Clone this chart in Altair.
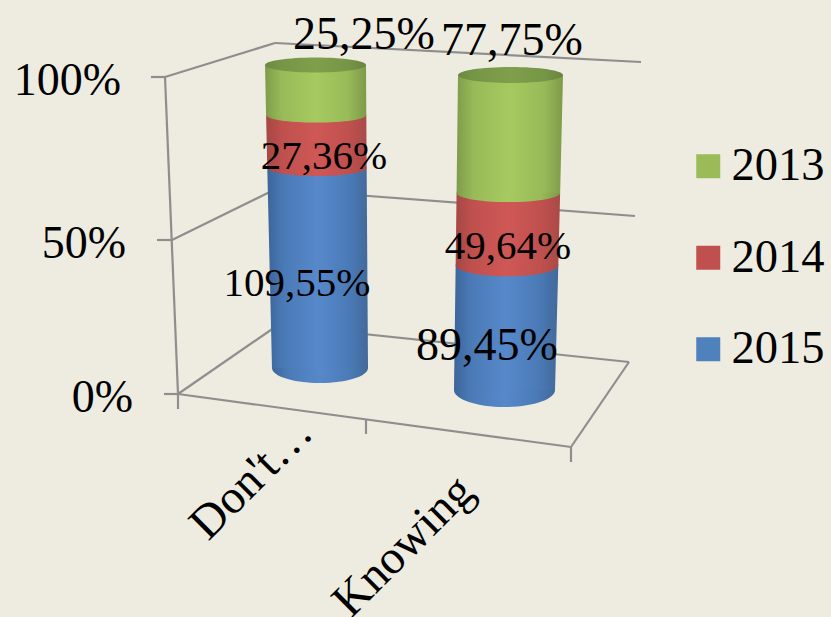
import altair as alt
import pandas as pd

# Values printed on the columns, per category
categories = ["Don't…", "Knowing"]
years = ["2015", "2014", "2013"]
values_2015 = [109.55, 89.45]
values_2014 = [27.36, 49.64]
values_2013 = [25.25, 77.75]
percent_ticks = [0, 50, 100]
SERIES = dict(zip(years, [values_2015, values_2014, values_2013]))

BACKGROUND = "#EEECE1"
GRID = "#8E8E8E"
FONT = "Liberation Serif"
LEGEND_COLORS = {"2013": "#9BBB59", "2014": "#C0504D", "2015": "#4F81BD"}
SHADES = {
    "2015": ("#3C659A", "#4A7AB6", "#5788CA", "#42699A"),
    "2014": ("#A54744", "#BF504E", "#CF5856", "#A94A47"),
    "2013": ("#7F9C4A", "#98BA58", "#A6CA60", "#7E9A4A"),
    "top": ("#6B8A42", "#769647", "#7F9F4C", "#688540"),
}

# Projected outline of each cylinder on the 831x617 canvas
CYLINDERS = {
    "Don't…": dict(y0=368, y1=65, l0=272, l1=265, r0=368, r1=366, h0=15, h1=7.5),
    "Knowing": dict(y0=390, y1=75, l0=454, l1=458, r0=555, r1=563, h0=17, h1=8),
}
PERSPECTIVE = 1.07

# Projected frame of the chart box
FLOOR_FRONT_L = (178, 394)
FLOOR_FRONT_R = (571, 447)
FLOOR_BACK_L = (278, 325)
FLOOR_BACK_R = (629, 362)
WALL_LINES = [
    (165, 77, 275, 43), (275, 43, 641, 62),
    (172, 240, 276, 189), (276, 189, 635, 216),
    (165, 77, 178, 394),
    FLOOR_FRONT_L + FLOOR_BACK_L, FLOOR_BACK_L + FLOOR_BACK_R,
    FLOOR_BACK_R + FLOOR_FRONT_R, FLOOR_FRONT_R + FLOOR_FRONT_L,
    (151, 77, 165, 77), (157, 240, 172, 240), (164, 394, 178, 394),
    (178, 394, 178, 409), (366, 420, 366, 434), (571, 447, 571, 462),
]

# Anchors and sizes for the texts
TICK_ANCHORS = {0: (133, 412, 46), 50: (126, 258, 46), 100: (121, 95, 46)}
CATEGORY_ANCHORS = {"Don't…": (315, 435), "Knowing": (476, 494)}
VALUE_ANCHORS = {
    ("Don't…", "2015"): (297, 296, 41),
    ("Don't…", "2014"): (324, 169, 41),
    ("Don't…", "2013"): (364, 49, 46),
    ("Knowing", "2015"): (487, 360, 46),
    ("Knowing", "2014"): (508, 259, 41),
    ("Knowing", "2013"): (512, 55, 46),
}


def project(category, share):
    """Screen geometry of a cylinder's cross-section at a cumulative share."""
    c = CYLINDERS[category]
    depth = share / (PERSPECTIVE - (PERSPECTIVE - 1) * share)
    return dict(
        y=c["y0"] + (c["y1"] - c["y0"]) * depth,
        left=c["l0"] + (c["l1"] - c["l0"]) * share,
        right=c["r0"] + (c["r1"] - c["r0"]) * share,
        half=c["h1"] + (c["h0"] - c["h1"]) * (1 - share) ** 2,
    )


def ellipse_row(category, share):
    s = project(category, share)
    width = s["right"] - s["left"]
    r = 2 * s["half"] / width
    return dict(
        cx=(s["left"] + s["right"]) / 2,
        y=s["y"],
        size=width**2,
        path=f"M-1,0A1,{r:.4f},0,1,0,1,0A1,{r:.4f},0,1,0,-1,0Z",
    )


def shade(key):
    a, b, c, d = SHADES[key]
    return alt.Gradient(
        gradient="linear", x1=0, x2=1, y1=0, y2=0,
        stops=[
            alt.GradientStop(offset=0, color=a),
            alt.GradientStop(offset=0.16, color=b),
            alt.GradientStop(offset=0.5, color=c),
            alt.GradientStop(offset=0.82, color=b),
            alt.GradientStop(offset=1, color=d),
        ],
    )


x_scale = alt.Scale(domain=[0, 831], range=[0, 831], nice=False, zero=False)
y_scale = alt.Scale(domain=[0, 617], range=[0, 617], nice=False, zero=False)
X = lambda f: alt.X(f, type="quantitative", scale=x_scale, axis=None)
Y = lambda f: alt.Y(f, type="quantitative", scale=y_scale, axis=None)


def ellipse_layer(rows, key):
    return alt.Chart(pd.DataFrame(rows)).mark_point(
        filled=True, fill=shade(key), opacity=1, strokeWidth=0
    ).encode(
        x=X("cx"), y=Y("y"),
        size=alt.Size("size:Q", scale=None),
        shape=alt.Shape("path:N", scale=None),
    )


# Chart box: walls, floor and tick marks
walls = pd.DataFrame(WALL_LINES, columns=["x1", "y1", "x2", "y2"])
layers = [
    alt.Chart(walls).mark_rule(color=GRID, strokeWidth=2.2).encode(
        x=X("x1"), y=Y("y1"), x2="x2:Q", y2="y2:Q"
    )
]

# Cylinders stacked from the values, normalised within each category
totals = [sum(SERIES[y][i] for y in years) for i in range(len(categories))]
cumulative = [0.0] * len(categories)
text_rows = []
for year in years:
    bottoms, sides = [], []
    for i, cat in enumerate(categories):
        start = cumulative[i]
        end = start + SERIES[year][i] / totals[i]
        cumulative[i] = end
        bottoms.append(ellipse_row(cat, start))
        a, b = project(cat, start), project(cat, end)
        sides.append(dict(category=cat, y=a["y"], xl=a["left"], xr=a["right"]))
        sides.append(dict(category=cat, y=b["y"], xl=b["left"], xr=b["right"]))
        ax, ay, fs = VALUE_ANCHORS[(cat, year)]
        text_rows.append(dict(
            x=ax, y=ay, fs=fs, label=f"{SERIES[year][i]:.2f}%".replace(".", ",")
        ))
    layers.append(ellipse_layer(bottoms, year))
    layers.append(
        alt.Chart(pd.DataFrame(sides)).mark_area(
            orient="horizontal", fill=shade(year), opacity=1
        ).encode(
            y=Y("y"), x=X("xl"), x2="xr:Q", detail="category:N"
        )
    )

# Cylinder lids
layers.append(ellipse_layer([ellipse_row(c, 1.0) for c in categories], "top"))

# Value labels
layers.append(
    alt.Chart(pd.DataFrame(text_rows)).mark_text(
        font=FONT, color="black", align="center", baseline="alphabetic"
    ).encode(
        x=X("x"), y=Y("y"), text="label:N",
        size=alt.Size("fs:Q", scale=None),
    )
)

# Percent scale labels along the left edge
tick_rows = [
    dict(x=TICK_ANCHORS[t][0], y=TICK_ANCHORS[t][1], label=f"{t}%") for t in percent_ticks
]
layers.append(
    alt.Chart(pd.DataFrame(tick_rows)).mark_text(
        font=FONT, fontSize=46, color="black", align="right", baseline="alphabetic"
    ).encode(x=X("x"), y=Y("y"), text="label:N")
)

# Category labels, slanted along the floor's front edge
cat_rows = [
    dict(x=CATEGORY_ANCHORS[c][0], y=CATEGORY_ANCHORS[c][1], label=c) for c in categories
]
layers.append(
    alt.Chart(pd.DataFrame(cat_rows)).mark_text(
        font=FONT, fontSize=47.5, color="black", align="right",
        baseline="alphabetic", angle=315,
    ).encode(x=X("x"), y=Y("y"), text="label:N")
)

# Legend keyed by year
legend_order = ["2013", "2014", "2015"]
layers.append(
    alt.Chart(pd.DataFrame({"year": legend_order, "x": [0, 0, 0], "y": [0, 0, 0]}))
    .mark_square(size=0, opacity=1)
    .encode(
        x=X("x"), y=Y("y"),
        color=alt.Color(
            "year:N",
            scale=alt.Scale(
                domain=legend_order, range=[LEGEND_COLORS[y] for y in legend_order]
            ),
            legend=alt.Legend(
                orient="none", legendX=685, legendY=143, title=None,
                symbolType="square", symbolSize=576, symbolStrokeWidth=0,
                symbolOpacity=1, labelFont=FONT, labelFontSize=46.5,
                labelColor="black", labelOffset=0, rowPadding=44.5,
                labelLimit=200,
            ),
        ),
    )
)

chart = alt.layer(*layers).properties(
    width=831, height=617, padding=0, autosize="none", background=BACKGROUND
).configure_view(stroke=None)

chart.save("out.html", embed_options={"renderer": "svg", "actions": False})
